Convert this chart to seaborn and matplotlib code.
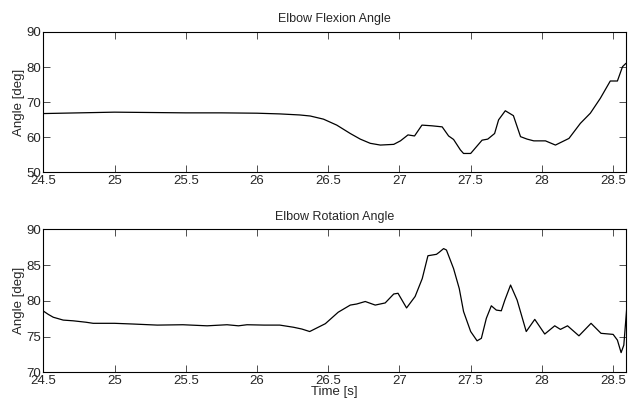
import numpy as np
import pandas as pd
import matplotlib
matplotlib.use("Agg")
import matplotlib.pyplot as plt
import seaborn as sns

# ---- data ----
flex_t = [24.50, 24.75, 25.00, 25.25, 25.50, 25.75, 26.00, 26.16, 26.30, 26.374, 26.467,
          26.56, 26.655, 26.725, 26.795, 26.866, 26.96, 27.007, 27.06, 27.106, 27.158,
          27.228, 27.30, 27.345, 27.38, 27.428, 27.45, 27.50, 27.58, 27.62, 27.668,
          27.696, 27.743, 27.80, 27.85, 27.896, 27.943, 28.025, 28.095, 28.19, 28.27,
          28.34, 28.41, 28.48, 28.53, 28.566, 28.59]
flex_v = [66.7, 66.9, 67.1, 67.0, 66.9, 66.9, 66.8, 66.6, 66.3, 66.0, 65.1,
          63.4, 61.0, 59.4, 58.2, 57.7, 57.9, 58.9, 60.6, 60.3, 63.4,
          63.2, 62.9, 60.3, 59.3, 56.3, 55.3, 55.3, 59.1, 59.4, 61.0,
          64.9, 67.5, 66.1, 60.1, 59.4, 58.9, 58.9, 57.7, 59.6, 63.9,
          66.8, 71.05, 76.0, 76.0, 80.1, 81.05]

rot_t = [24.50, 24.535, 24.57, 24.64, 24.71, 24.80, 24.85, 25.00, 25.13, 25.30, 25.48,
         25.65, 25.79, 25.87, 25.93, 26.05, 26.16, 26.256, 26.315, 26.37, 26.48,
         26.57, 26.655, 26.70, 26.76, 26.83, 26.90, 26.96, 26.99, 27.05, 27.11,
         27.16, 27.20, 27.26, 27.28, 27.31, 27.33, 27.38, 27.42, 27.45, 27.50,
         27.545, 27.575, 27.61, 27.645, 27.68, 27.715, 27.74, 27.78, 27.826, 27.89,
         27.95, 28.02, 28.09, 28.13, 28.18, 28.26, 28.345, 28.415, 28.50, 28.53,
         28.556, 28.575, 28.60]
rot_v = [78.57, 78.1, 77.7, 77.3, 77.2, 77.0, 76.85, 76.85, 76.75, 76.6, 76.65,
         76.5, 76.65, 76.5, 76.65, 76.6, 76.6, 76.3, 76.05, 75.7, 76.8,
         78.4, 79.4, 79.55, 79.9, 79.4, 79.7, 80.95, 81.05, 79.0, 80.6,
         83.1, 86.3, 86.5, 86.8, 87.3, 87.1, 84.5, 81.7, 78.5, 75.7,
         74.4, 74.75, 77.55, 79.3, 78.7, 78.6, 80.1, 82.2, 80.1, 75.7,
         77.4, 75.35, 76.5, 76.0, 76.5, 75.1, 76.85, 75.45, 75.3, 74.5,
         72.75, 73.8, 80.1]

x_ticks = [24.5, 25, 25.5, 26, 26.5, 27, 27.5, 28, 28.5]
x_ticklabels = ["24.5", "25", "25.5", "26", "26.5", "27", "27.5", "28", "28.5"]
flex_yticks = [50, 60, 70, 80, 90]
rot_yticks = [70, 75, 80, 85, 90]

titles = ["Elbow Flexion Angle", "Elbow Rotation Angle"]

# ---- style ----
sns.set_style("ticks")
plt.rcParams["font.family"] = ["Liberation Sans", "DejaVu Sans"]
plt.rcParams["xtick.direction"] = "in"
plt.rcParams["ytick.direction"] = "in"

fig = plt.figure(figsize=(6.31, 3.98), dpi=100)
ax1 = fig.add_axes([0.0686, 0.5678, 0.9234, 0.3518])
ax2 = fig.add_axes([0.0686, 0.0646, 0.9234, 0.3593])

df1 = pd.DataFrame({"t": flex_t, "v": flex_v})
df2 = pd.DataFrame({"t": rot_t, "v": rot_v})

sns.lineplot(data=df1, x="t", y="v", ax=ax1, color="black", linewidth=0.9,
             estimator=None, sort=False)
sns.lineplot(data=df2, x="t", y="v", ax=ax2, color="black", linewidth=0.9,
             estimator=None, sort=False)

for ax, yt, title in [(ax1, flex_yticks, titles[0]), (ax2, rot_yticks, titles[1])]:
    ax.set_xlim(24.5, 28.59)
    ax.set_ylim(yt[0], yt[-1])
    ax.set_xticks(x_ticks)
    ax.set_xticklabels(x_ticklabels)
    ax.set_yticks(yt)
    ax.set_yticklabels([str(v) for v in yt])
    ax.tick_params(axis="both", which="both", direction="in", length=5, width=0.6,
                   top=True, right=True, labelsize=9.5, color="#333333")
    ax.tick_params(axis="x", pad=2)
    ax.tick_params(axis="y", pad=1.5)
    for s in ax.spines.values():
        s.set_visible(True)
        s.set_linewidth(0.8)
        s.set_color("black")
    ax.set_title(title, fontsize=9, pad=7)
    ax.set_ylabel("Angle [deg]", fontsize=9.5, labelpad=1)
    ax.set_xlabel("")

ax2.set_xlabel("Time [s]", fontsize=9.5, labelpad=-1)

fig.savefig("out.png", dpi=100)
